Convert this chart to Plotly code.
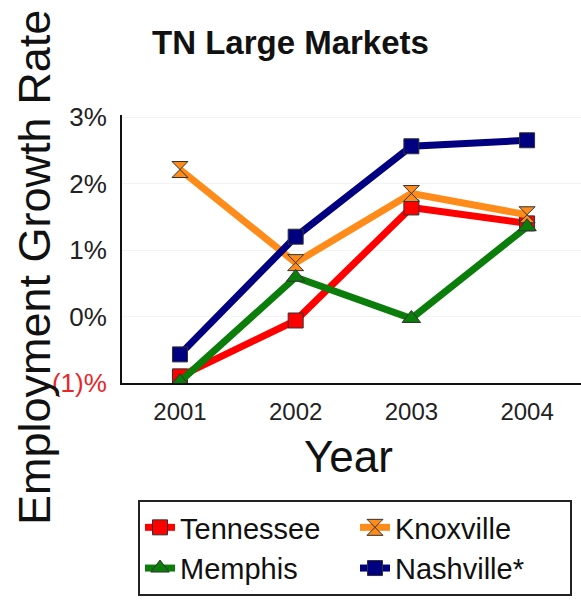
import plotly.graph_objects as go

years = [2001, 2002, 2003, 2004]
tennessee = [-0.90, -0.06, 1.64, 1.40]
knoxville = [2.21, 0.81, 1.85, 1.53]
memphis = [-0.98, 0.59, -0.03, 1.35]
nashville = [-0.57, 1.20, 2.56, 2.65]

y_tickvals = [-1, 0, 1, 2, 3]
y_ticktext = ["<span style='color:#e8262a'>(1)%</span>", "0%", "1%", "2%", "3%"]

series = [
    ("Tennessee", tennessee, "#ff0000", "square", 15),
    ("Knoxville", knoxville, "#ff8c1a", "hourglass", 16),
    ("Memphis", memphis, "#0a7d0a", "triangle-up", 16),
    ("Nashville*", nashville, "#000080", "square", 15),
]

fig = go.Figure()
for name, vals, color, sym, size in series:
    fig.add_trace(go.Scatter(
        x=years, y=vals, name=name, mode="lines+markers",
        line=dict(color=color, width=7),
        marker=dict(symbol=sym, size=size, color=color,
                    line=dict(color="#333333", width=1)),
    ))

fig.update_layout(
    width=581, height=600,
    margin=dict(l=122, r=0, t=115, b=217, autoexpand=False),
    paper_bgcolor="white", plot_bgcolor="white",
    font=dict(family="Arial, Liberation Sans, sans-serif", color="#1a1a1a"),
    showlegend=True,
    legend=dict(
        orientation="h", x=(138 - 122) / 459, xanchor="left",
        y=(383 - 500) / 268, yanchor="top",
        font=dict(size=29, color="#111111"),
        bordercolor="#222222", borderwidth=2, bgcolor="white",
        entrywidth=170, entrywidthmode="pixels",
        traceorder="normal",
    ),
    xaxis=dict(
        range=[2000.499, 2004.466], tickvals=years, ticktext=[str(y) for y in years],
        showline=True, linecolor="#111111", linewidth=2, showgrid=False,
        zeroline=False, ticks="", tickfont=dict(size=24, color="#222222"),
        ticklabelstandoff=6,
    ),
    yaxis=dict(
        range=[-1, 3.03], tickvals=y_tickvals, ticktext=y_ticktext,
        showline=True, linecolor="#111111", linewidth=2,
        showgrid=True, gridcolor="#f3f3f3", gridwidth=1,
        zeroline=False, ticks="", tickfont=dict(size=26, color="#222222"),
        ticklabelstandoff=8,
    ),
    annotations=[
        dict(text="<b>TN Large Markets</b>", xref="paper", yref="paper",
             x=(290 - 122) / 459, y=(383 - 42) / 268, xanchor="center", yanchor="middle",
             showarrow=False, font=dict(size=33, color="#111111")),
        dict(text="Employment Growth Rate", xref="paper", yref="paper",
             x=(34 - 122) / 459, y=(383 - 268) / 268, xanchor="center", yanchor="middle",
             textangle=-90, showarrow=False, font=dict(size=45, color="#111111")),
        dict(text="Year", xref="paper", yref="paper",
             x=(348 - 122) / 459, y=(383 - 456) / 268, xanchor="center", yanchor="middle",
             showarrow=False, font=dict(size=44, color="#111111")),
    ],
)

fig.write_html("out.html", config={"displayModeBar": False},
               post_script="document.body.style.margin='0';")
